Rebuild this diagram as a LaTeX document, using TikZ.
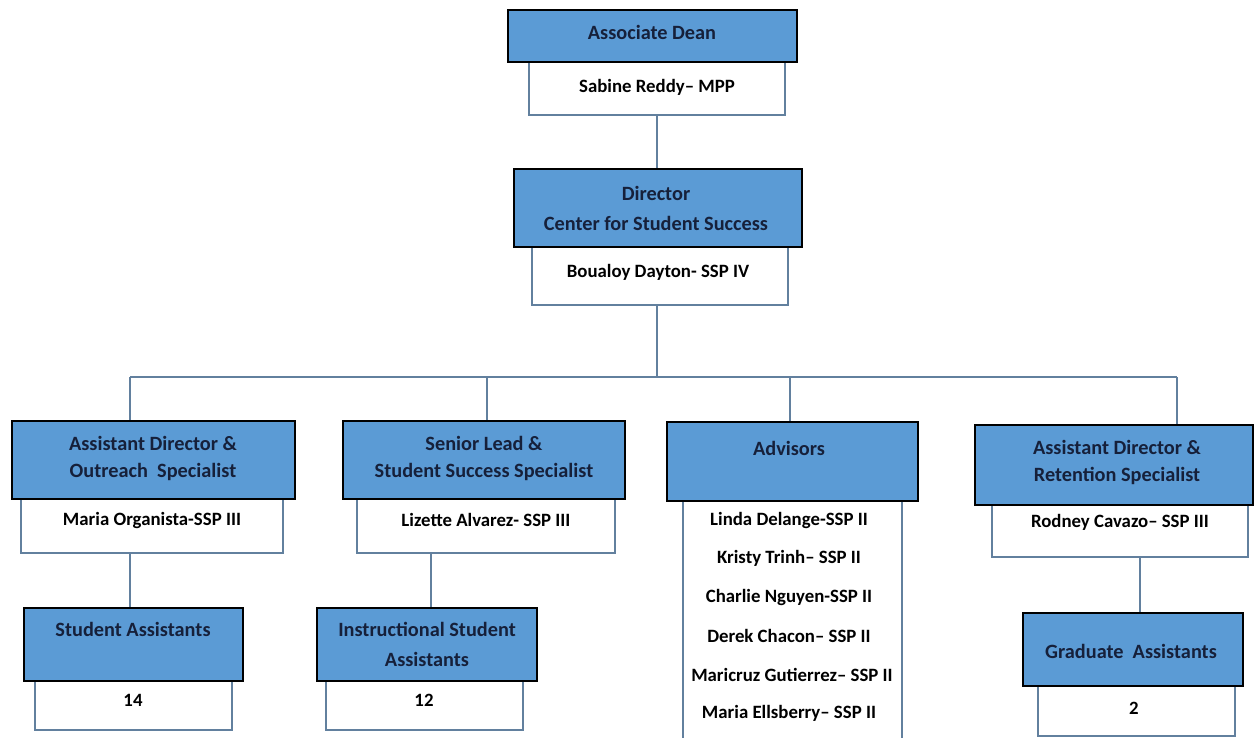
\documentclass[tikz,border=0pt]{standalone}
\usepackage{fontspec}
\setmainfont{Carlito}
\definecolor{boxblue}{HTML}{5B9BD5}
\definecolor{navytext}{HTML}{16203A}
\definecolor{linecol}{HTML}{62809E}
\tikzset{
  bluebox/.style={draw=black, line width=2.6pt, fill=boxblue, rectangle, inner sep=0pt},
  whitebox/.style={draw=linecol, line width=2.2pt, fill=white, rectangle, inner sep=0pt},
  conn/.style={draw=linecol, line width=2pt},
  ttl/.style={font=\bfseries\fontsize{20.3}{24}\selectfont, text=navytext, inner sep=0pt, align=center},
  nm/.style={font=\bfseries\fontsize{18.8}{22}\selectfont, text=black, inner sep=0pt}
}
\begin{document}
\begin{tikzpicture}[x=1pt,y=-1pt]
\useasboundingbox (0,0) rectangle (1254,738);
% coordinates for connector columns
\coordinate (bus) at (657,377);
\coordinate (t1) at (130,377);
\coordinate (t2) at (487,377);
\coordinate (t3) at (790,377);
\coordinate (t4) at (1177,377);
\coordinate (l2) at (431,580);
\coordinate (l4) at (1140,580);
% Associate Dean
\node[whitebox, minimum width=256pt, minimum height=53pt] (adW) at (657,88.5) {};
\node[bluebox, minimum width=289pt, minimum height=52pt] (adB) at (652.5,36) {};
% Director
\node[whitebox, minimum width=256pt, minimum height=58pt] (dirW) at (660,276) {};
\node[bluebox, minimum width=288pt, minimum height=78pt] (dirB) at (658,208) {};
% Column 1
\node[whitebox, minimum width=262pt, minimum height=54pt] (c1W) at (152,526) {};
\node[bluebox, minimum width=283pt, minimum height=78pt] (c1B) at (153.5,460) {};
% Column 2
\node[whitebox, minimum width=258pt, minimum height=54pt] (c2W) at (486,526) {};
\node[bluebox, minimum width=282pt, minimum height=78pt] (c2B) at (484,460) {};
% Column 3
\node[whitebox, minimum width=219pt, minimum height=259pt] (c3W) at (792.5,630.5) {};
\node[bluebox, minimum width=251pt, minimum height=79pt] (c3B) at (792.5,461.5) {};
% Column 4
\node[whitebox, minimum width=256pt, minimum height=52pt] (c4W) at (1120,531) {};
\node[bluebox, minimum width=278pt, minimum height=80pt] (c4B) at (1114,465) {};
% Bottom row
\node[whitebox, minimum width=197pt, minimum height=49pt] (saW) at (133.5,705.5) {};
\node[bluebox, minimum width=219pt, minimum height=73pt] (saB) at (133.5,644.5) {};
\node[whitebox, minimum width=197pt, minimum height=49pt] (isW) at (424.5,705.5) {};
\node[bluebox, minimum width=220pt, minimum height=73pt] (isB) at (427,644.5) {};
\node[whitebox, minimum width=197pt, minimum height=50pt] (gaW) at (1136.5,711) {};
\node[bluebox, minimum width=220pt, minimum height=73pt] (gaB) at (1133,649.5) {};
% Connectors
\draw[conn] (bus |- adW.south) -- (bus |- dirB.north);
\draw[conn] (bus |- dirW.south) -- (bus);
\draw[conn] (t1) -- (t4);
\draw[conn] (t1) -- (t1 |- c1B.north);
\draw[conn] (t2) -- (t2 |- c2B.north);
\draw[conn] (t3) -- (t3 |- c3B.north);
\draw[conn] (t4) -- (t4 |- c4B.north);
\draw[conn] (t1 |- c1W.south) -- (t1 |- saB.north);
\draw[conn] (l2 |- c2W.south) -- (l2 |- isB.north);
\draw[conn] (l4 |- c4W.south) -- (l4 |- gaB.north);
% Texts
\node[ttl] (adT) at (652,32) {Associate Dean};
\node[nm] (adN) at (657,87) {Sabine Reddy– MPP};
\node[ttl] (dirT1) at (656,193) {Director};
\node[ttl] (dirT2) at (656,223) {Center for Student Success};
\node[nm] (dirN) at (658,272) {Boualoy Dayton- SSP IV};
\node[ttl] (c1T1) at (153,443) {Assistant Director \&};
\node[ttl] (c1T2) at (153,472) {Outreach\ \ Specialist};
\node[nm] (c1N) at (152,520) {Maria Organista-SSP III};
\node[ttl] (c2T1) at (484,443) {Senior Lead \&};
\node[ttl] (c2T2) at (484,472) {Student Success Specialist};
\node[nm] (c2N) at (486,520) {Lizette Alvarez- SSP III};
\node[ttl] (c3T) at (789,448) {Advisors};
\node[nm] (a1) at (789,520) {Linda Delange-SSP II};
\node[nm] (a2) at (789,558) {Kristy Trinh– SSP II};
\node[nm] (a3) at (789,597) {Charlie Nguyen-SSP II};
\node[nm] (a4) at (789,636) {Derek Chacon– SSP II};
\node[nm] (a5) at (792,675) {Maricruz Gutierrez– SSP II};
\node[nm] (a6) at (789,713) {Maria Ellsberry– SSP II};
\node[ttl] (c4T1) at (1117,447) {Assistant Director \&};
\node[ttl] (c4T2) at (1117,476) {Retention Specialist};
\node[nm] (c4N) at (1120,522) {Rodney Cavazo– SSP III};
\node[ttl] (saT) at (133,629) {Student Assistants};
\node[nm] (saN) at (133,700) {14};
\node[ttl] (isT1) at (427,629) {Instructional Student};
\node[ttl] (isT2) at (427,659) {Assistants};
\node[nm] (isN) at (424,700) {12};
\node[ttl] (gaT) at (1131,651) {Graduate\ \ Assistants};
\node[nm] (gaN) at (1134,708) {2};
\end{tikzpicture}
\end{document}
